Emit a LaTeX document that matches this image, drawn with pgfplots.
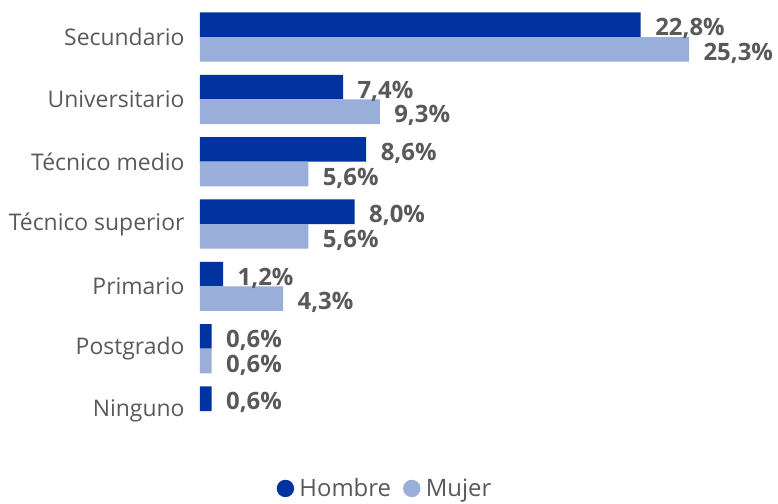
\documentclass[border=0pt]{standalone}
\usepackage{pgfplots}
\pgfplotsset{compat=1.18}
\usepackage{fontspec}
\setmainfont{Open Sans}
\definecolor{hombre}{HTML}{0033A0}
\definecolor{mujer}{HTML}{99AED8}
\definecolor{txt}{HTML}{595959}
\begin{document}
\begin{tikzpicture}[x=1bp,y=1bp]
\begin{axis}[
    at={(0,0)}, anchor=south west,
    scale only axis,
    width=560.6bp, height=436.3bp,
    xmin=0, xmax=29,
    ymin=-0.5, ymax=6.5,
    y dir=reverse,
    xbar, bar width=24.6bp,
    axis line style={draw=none},
    hide x axis,
    ytick={0,...,6},
    yticklabels={Secundario,Universitario,Técnico medio,Técnico superior,Primario,Postgrado,Ninguno},
    yticklabel style={font=\fontsize{23}{27}\selectfont, text=txt, anchor=east, xshift=-12bp},
    major tick length=0pt,
    /pgf/number format/assume math mode=true,
    nodes near coords={\pgfmathprintnumber[fixed,fixed zerofill,precision=1,use comma]{\pgfplotspointmeta}\%},
    nodes near coords style={font=\fontsize{24}{28}\selectfont\bfseries, text=txt, anchor=west, xshift=11bp, yshift=-4bp},
    point meta=x,
    legend style={at={(0.33,-0.106)}, anchor=center, draw=none, fill=none,
        legend columns=2, font=\fontsize{24}{28}\selectfont, text=txt,
        inner sep=0pt,
        /tikz/every even column/.append style={column sep=10bp}},
    legend image code/.code={\fill[#1] (0bp,0bp) circle (8.7bp); \path (12bp,0bp);},
]
\addplot[draw=none, fill=hombre, bar shift=12.3bp] coordinates {
    (22.8,0) (7.4,1) (8.6,2) (8.0,3) (1.2,4) (0.6,5) (0.6,6)
};
\addlegendentry{Hombre}
\addplot[draw=none, fill=mujer, bar shift=-12.3bp] coordinates {
    (25.3,0) (9.3,1) (5.6,2) (5.6,3) (4.3,4) (0.6,5)
};
\addlegendentry{Mujer}
\end{axis}
\pgfresetboundingbox
\path[use as bounding box] (-200bp,-61.8bp) rectangle (578bp,442.2bp);
\end{tikzpicture}
\end{document}
